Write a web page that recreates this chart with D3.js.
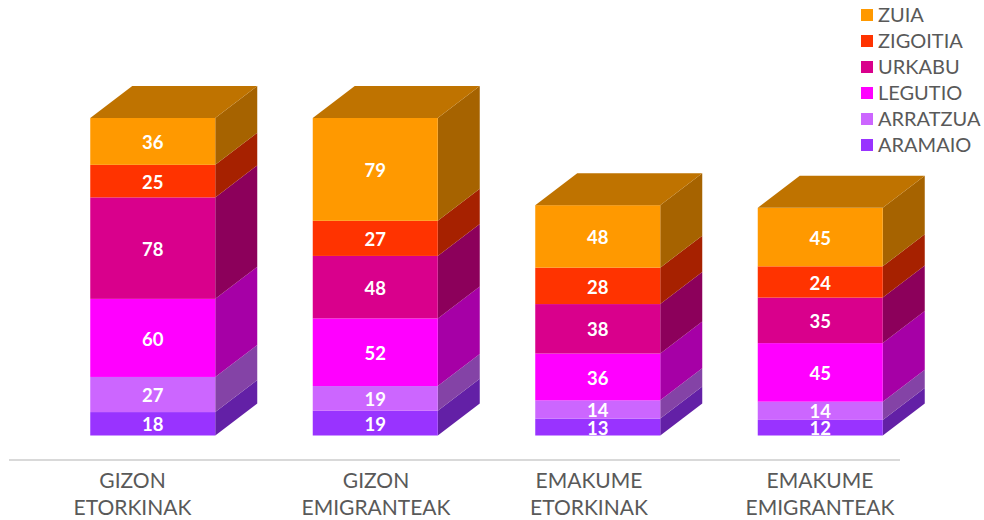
<!DOCTYPE html>
<html><head><meta charset="utf-8">
<script src="https://cdn.jsdelivr.net/npm/d3@7"></script>
<style>html,body{margin:0;padding:0;background:#fff}svg{display:block}text{font-family:Lato,sans-serif}</style>
</head><body><svg id="c" width="984" height="520"></svg>
<script>
const categories = [["GIZON","ETORKINAK"],["GIZON","EMIGRANTEAK"],["EMAKUME","ETORKINAK"],["EMAKUME","EMIGRANTEAK"]];
const seriesNames = ["ARAMAIO","ARRATZUA","LEGUTIO","URKABU","ZIGOITIA","ZUIA"];
const ARAMAIO = [18,19,13,12];
const ARRATZUA = [27,19,14,14];
const LEGUTIO = [60,52,36,45];
const URKABU = [78,48,38,35];
const ZIGOITIA = [25,27,28,24];
const ZUIA = [36,79,48,45];
const values = [ARAMAIO,ARRATZUA,LEGUTIO,URKABU,ZIGOITIA,ZUIA];
const frontColors = ["#9933ff","#cc66ff","#ff00ff","#d9008c","#ff3300","#ff9900"];
const sideColors = ["#6320a6","#8443a6","#a600a6","#8c005b","#a62100","#a66300"];
const topColor = "#bf7300";

const svg = d3.select("#c");
const W = 125, DX = 42, DY = 32;
const x = d3.scaleBand().domain(d3.range(categories.length)).range([41.5,931.5]).paddingInner(0).paddingOuter(0);
const barX = i => x(i) + (x.bandwidth()-W)/2;
const y = d3.scaleLinear().domain([0,244]).range([435.5,118]);
const labelX = [132.5,376,589,820];

svg.append("line").attr("x1",9).attr("x2",900).attr("y1",460).attr("y2",460).attr("stroke","#d9d9d9").attr("stroke-width",2);

const stack = d3.stack().keys(d3.range(values.length)).value((d,k)=>values[k][d])(d3.range(categories.length));

categories.forEach((c,i)=>{
  const g = svg.append("g");
  const x0 = barX(i);
  stack.forEach((s,k)=>{
    const [a,b] = s[i];
    const y0 = y(a), y1 = y(b);
    g.append("polygon").attr("fill",sideColors[k])
      .attr("points",[[x0+W,y0],[x0+W+DX,y0-DY],[x0+W+DX,y1-DY],[x0+W,y1]].join(" "));
    g.append("rect").attr("x",x0).attr("y",y1).attr("width",W).attr("height",y0-y1).attr("fill",frontColors[k]);
  });
  const tot = stack[stack.length-1][i][1];
  g.append("polygon").attr("fill",topColor)
    .attr("points",[[x0,y(tot)],[x0+DX,y(tot)-DY],[x0+W+DX,y(tot)-DY],[x0+W,y(tot)]].join(" "));
  stack.forEach((s,k)=>{
    const [a,b] = s[i];
    g.append("text").attr("x",x0+W/2).attr("y",(y(a)+y(b))/2+1).attr("dy","0.36em")
      .attr("text-anchor","middle").attr("fill","#fff").attr("font-size",18.5).attr("font-weight",700)
      .text(values[k][i]);
  });
  c.forEach((t,j)=>{
    svg.append("text").attr("x",labelX[i]).attr("y",488+j*26.5).attr("text-anchor","middle")
      .attr("fill","#595959").attr("font-size",21).text(t);
  });
});

const legend = [...seriesNames].reverse();
legend.forEach((n,i)=>{
  const yy = 15 + i*26;
  svg.append("rect").attr("x",861).attr("y",yy-6).attr("width",12).attr("height",12).attr("fill",frontColors[frontColors.length-1-i]);
  svg.append("text").attr("x",878).attr("y",yy).attr("dy","0.36em").attr("fill","#595959").attr("font-size",20).text(n);
});
</script></body></html>
